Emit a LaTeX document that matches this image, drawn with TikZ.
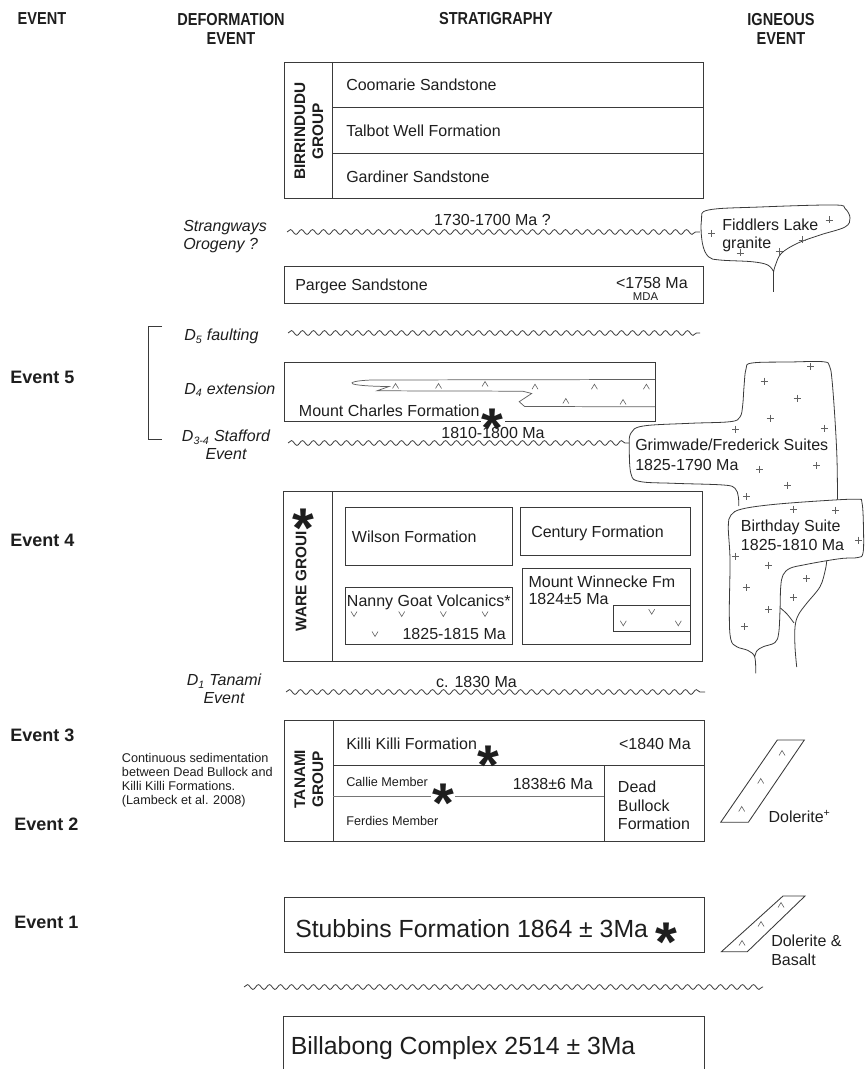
\documentclass[tikz,border=0pt]{standalone}
\usepackage{fontspec}
\setmainfont{Liberation Sans}
\newfontfamily\headfont[FakeStretch=0.84]{Liberation Sans Bold}
\usetikzlibrary{decorations.pathmorphing}
\definecolor{linec}{HTML}{3A3A3A}
\definecolor{inkc}{HTML}{1E1E1E}

\begin{document}
\begin{tikzpicture}[x=0.75pt, y=-0.75pt,
  every node/.style={text=inkc},
  box/.style={draw=linec, line width=0.65pt},
  wavy/.style={draw=linec, line width=0.6pt, decorate,
               decoration={snake, segment length=8.25pt, amplitude=1.8pt}},
  txt/.style={inner sep=0pt, anchor=base west, font=\fontsize{12}{14}\selectfont},
  txtr/.style={txt, anchor=base east},
  small/.style={inner sep=0pt, anchor=base west, font=\fontsize{9.5}{11}\selectfont},
  defo/.style={inner sep=0pt, font=\fontsize{12}{13.5}\selectfont\itshape},
  evt/.style={inner sep=0pt, anchor=base west, font=\fontsize{13.5}{16}\selectfont\bfseries},
  head/.style={inner sep=0pt, align=center, font=\fontsize{13}{14.25}\selectfont\headfont},
  grp/.style={inner sep=0pt, rotate=90, align=center,
              font=\fontsize{11.5}{13.5}\selectfont\bfseries},
  big/.style={inner sep=0pt, anchor=base west, font=\fontsize{18.6}{22}\selectfont},
  star/.style={inner sep=0pt, anchor=base, text height=31pt, text depth=-17pt,
               font=\fontsize{42}{42}\selectfont\bfseries},
  gran/.style={draw=linec!80, line width=0.45pt},
  blob/.style={draw=linec, line width=0.6pt}
]
\useasboundingbox (0,0) rectangle (865,1069);

% ---- column headers ----
\node[head] (hevent)   at (42,19)    {EVENT};
\node[head] (hdeform)  at (231,28.5) {DEFORMATION\\EVENT};
\node[head] (hstrat)   at (496,19)   {STRATIGRAPHY};
\node[head] (higneous) at (781,28.5) {IGNEOUS\\EVENT};

% ---- event column ----
\node[evt] (ev5) at (10,383.5) {Event 5};
\node[evt] (ev4) at (10,546)   {Event 4};
\node[evt] (ev3) at (10,741.5) {Event 3};
\node[evt] (ev2) at (14,830)   {Event 2};
\node[evt] (ev1) at (14,928.5) {Event 1};
\node[inner sep=0pt, anchor=north west, align=left,
      font=\fontsize{9.5}{10.3}\selectfont] (note) at (121.7,753.5)
  {Continuous sedimentation\\between Dead Bullock and\\Killi Killi Formations.\\(Lambeck et al. 2008)};

% ---- deformation column ----
\draw[linec, line width=0.6pt] (162,326) -- (148,326) -- (148,439) -- (162,439);
\node[defo, anchor=north west, align=left] (strang) at (183,220) {Strangways\\Orogeny ?};
\node[defo, anchor=base west] (dfive) at (184,341) {D\textsubscript{5} faulting};
\node[defo, anchor=base west] (dfour) at (184,394) {D\textsubscript{4} extension};
\node[defo, anchor=north, align=center] (dthree) at (226,430) {D\textsubscript{3-4} Stafford\\Event};
\node[defo, anchor=north, align=center] (done) at (224,674) {D\textsubscript{1} Tanami\\Event};

% ---- unconformities ----
\draw[wavy] (287,232) -- (700,232);
\draw[wavy] (288,333) -- (700,333);
\draw[wavy] (288,443) -- (629,443);
\draw[wavy] (286,692) -- (705,692);
\draw[wavy] (244,987) -- (763,987);
\node[txt, anchor=base] (age1730) at (492.5,226) {1730-1700 Ma ?};
\node[txt, anchor=base] (age1810) at (493,438.5) {1810-1800 Ma};
\node[txt, anchor=base] (age1830) at (476.5,687) {c. 1830 Ma};

% ---- Birrindudu Group ----
\draw[box] (284,62) rectangle (703,198.5);
\draw[box] (332.7,62) -- (332.7,198.5)
           (332.7,107.3) -- (703,107.3) (332.7,153.3) -- (703,153.3);
\node[grp] (birgrp) at (309,131) {BIRRINDUDU\\GROUP};
\node[txt] (coomarie) at (346,90.8)  {Coomarie Sandstone};
\node[txt] (talbot)   at (346,136.8) {Talbot Well Formation};
\node[txt] (gardiner) at (346,182.5) {Gardiner Sandstone};

% ---- Pargee Sandstone ----
\draw[box] (284,266.7) rectangle (703,303.3);
\node[txt]  (pargee) at (295,291) {Pargee Sandstone};
\node[txtr] (age1758) at (688,289) {<1758 Ma};
\node[inner sep=0pt, anchor=base, font=\fontsize{8.5}{10}\selectfont] (mda) at (645.5,301) {MDA};

% ---- Mount Charles Formation ----
\draw[box] (284,362) rectangle (655,421);
\draw[gran, line width=0.55pt] (655,379.5) -- (372,380)
  .. controls (356,380.5) and (349,382.5) .. (353,384)
  .. controls (360,386) and (380,386.5) .. (389,386.5)
  -- (377,390.8) -- (522.8,391.2) -- (531.7,393.5) -- (519.2,401.7)
  -- (524.6,406.5) -- (655,406.8);
\foreach \px/\py in {395.5/386, 438.5/386, 485/384, 535/386.7, 565.8/401,
                     594.4/386.7, 623/402, 646.4/386.7}
  \draw[gran] (\px,\py) +(-3,2.5) -- +(0,-2.5) -- +(3,2.5);
\node[txt] (mtcharles) at (298.7,416) {Mount Charles Formation};
\fill[white] (481,418) rectangle (505,424);
\node[star] (starmc) at (492,447.3) {*};

% ---- Ware Group ----
\draw[box] (283.5,491) rectangle (702.5,661);
\draw[box] (332.7,491) -- (332.7,661);
\node[grp] (waregrp) at (301,581) {WARE GROUI};
\node[star] (starwg) at (303.3,547.3) {*};
\draw[box] (345.7,507.7) rectangle (512.3,565);
\node[txt] (wilson) at (351.7,542.5) {Wilson Formation};
\draw[box] (520.7,507.7) rectangle (690,555);
\node[txt] (century) at (531,537.5) {Century Formation};
\draw[box] (345.7,587.3) rectangle (512.3,644.3);
\node[txt] (nanny) at (346.7,606) {Nanny Goat Volcanics*};
\node[txt] (age1825a) at (402.3,639) {1825-1815 Ma};
\foreach \px/\py in {354/614, 401.7/614, 443.3/614, 485/614, 375/634}
  \draw[gran] (\px,\py) +(-3,-2.5) -- +(0,2.5) -- +(3,-2.5);
\draw[box] (522.7,568.3) rectangle (690,644.3);
\node[inner sep=0pt, anchor=north west, align=left,
      font=\fontsize{12}{12.5}\selectfont] (winnecke) at (528.3,576)
  {Mount Winnecke Fm\\1824±5 Ma};
\draw[box] (613.3,605) rectangle (690,631.7);
\foreach \px/\py in {623.3/623.3, 651.7/611.7, 678.3/623.3}
  \draw[gran] (\px,\py) +(-3,-2.5) -- +(0,2.5) -- +(3,-2.5);

% ---- Tanami Group ----
\draw[box] (284,720) rectangle (704,841.5);
\draw[box] (333.3,720) -- (333.3,841.5)
           (333.3,765.7) -- (704,765.7)
           (604.3,765.7) -- (604.3,841.5);
\draw[draw=linec!70, line width=0.5pt] (333.3,796.7) -- (431,796.7)
                                       (455,796.7) -- (604.3,796.7);
\node[grp] (tangrp) at (309,779) {TANAMI\\GROUP};
\node[txt]  (killi) at (346,749) {Killi Killi Formation};
\node[txtr] (age1840) at (691,749) {<1840 Ma};
\node[star] (starkk) at (488.3,784) {*};
\node[small] (callie) at (346,786.3) {Callie Member};
\node[txtr] (age1838) at (593,789) {1838±6 Ma};
\node[star] (starcm) at (443.7,822.3) {*};
\node[small] (ferdies) at (346,825.3) {Ferdies Member};
\node[inner sep=0pt, anchor=north west, align=left,
      font=\fontsize{12}{13.75}\selectfont] (deadbull) at (617.7,781)
  {Dead\\Bullock\\Formation};

% ---- Stubbins Formation and basement ----
\draw[box] (284,897) rectangle (704,952);
\node[big] (stubbins) at (295,937) {Stubbins Formation 1864 ± 3Ma};
\node[star] (starsf) at (666,961.3) {*};
\draw[box] (283,1075) -- (283,1016) -- (704,1016) -- (704,1075);
\node[big] (billabong) at (290.6,1054) {Billabong Complex 2514 ± 3Ma};

% ---- igneous column: granites ----
% Fiddlers Lake granite
\draw[blob] (773.6,291.7) -- (773.6,271.7);
\draw[blob] plot[smooth, tension=0.6] coordinates {
  (773.6,271.7) (767.7,265) (751.7,261.7) (719.8,260) (708.4,256.7)
  (702.4,243.3) (701.5,220) (708.4,210) (760,207) (834,205) (845,208.5)
  (850,218) (845,227) (820,235) (797.4,243.3) (781.4,253.3) (775.5,265)
  (773.6,271.7)};
\node[inner sep=0pt, anchor=north west, align=left,
      font=\fontsize{12}{13.5}\selectfont] (fiddlers) at (722,219)
  {Fiddlers Lake\\granite};
\foreach \px/\py in {711.6/233.3, 829/220, 802/240, 740/253, 779/251.7}
  \draw[gran] (\px,\py) +(-3.5,0) -- +(3.5,0) +(0,-3.5) -- +(0,3.5);

% Grimwade / Frederick Suites
\draw[blob] plot[smooth, tension=0.6] coordinates {
  (738.7,506) (738.3,496.7) (735,488.3) (723.3,485) (673.3,483.3)
  (640,481.5) (631,474) (629.3,446.7) (631,433) (643.3,426) (690,423.3)
  (730,421.7) (740,417) (742.7,405) (744,386.7) (746,369) (752,363)
  (790,362) (823,361.7) (829.5,366) (832,380) (835,420) (837,460)
  (837.5,499.5)};
\node[inner sep=0pt, anchor=north west, align=left,
      font=\fontsize{12}{15}\selectfont] (grimwade) at (635,439)
  {Grimwade/Frederick Suites\\1825-1790 Ma};
\foreach \px/\py in {810.7/366.7, 764/381, 797/398, 770/418, 735.7/429,
                     824.3/428, 759.3/469, 816.7/465.7, 787.3/485, 746.7/496.7}
  \draw[gran] (\px,\py) +(-3.5,0) -- +(3.5,0) +(0,-3.5) -- +(0,3.5);

% Birthday Suite
\draw[blob] plot[smooth, tension=0.6] coordinates {
  (755.7,673.3) (754.7,657) (748,650.5) (736.7,646.7) (730.7,639)
  (729.3,613) (730,560) (728.3,527) (731,515) (742,509) (773,504.5)
  (823,500.7) (856.7,499.3) (862,503) (863.5,530) (863,553) (858,557.5)
  (843.3,558.3) (826.7,560.7) (803.3,565) (790,568.3) (783,575)
  (780.7,587) (780,610) (778.7,633) (775,642.5) (763.3,646.7)
  (757,650.7) (754.7,657)};
\draw[blob] plot[smooth, tension=0.6] coordinates {
  (826.7,560.7) (825.3,570) (820,586.7) (806.7,603.3) (798.3,615)
  (795,627) (795,647) (796.7,667)};
\draw[blob] plot[smooth, tension=0.6] coordinates {
  (780.3,608) (787,614) (794,623)};
\node[inner sep=0pt, anchor=north west, align=left,
      font=\fontsize{12}{14.25}\selectfont] (birthday) at (740.7,520)
  {Birthday Suite\\1825-1810 Ma};
\foreach \px/\py in {793.3/509, 835.7/510, 858.3/540, 735/556, 768.3/565,
                     806.7/578.3, 746/587.7, 793.3/597.7, 768.3/609.3, 744.3/626.7}
  \draw[gran] (\px,\py) +(-3.5,0) -- +(3.5,0) +(0,-3.5) -- +(0,3.5);

% ---- igneous column: dykes ----
\draw[box] (720.7,822.3) -- (777.3,740) -- (804.3,740) -- (748.3,822.3) -- cycle;
\foreach \px/\py in {782/753, 760.7/781, 741.7/809}
  \draw[gran] (\px,\py) +(-3,2.5) -- +(0,-2.5) -- +(3,2.5);
\node[txt] (dolerite) at (768.3,822.5) {Dolerite\textsuperscript{+}};
\draw[box] (721.4,951.7) -- (783,896) -- (805,896) -- (747.3,951.7) -- cycle;
\foreach \px/\py in {781/905, 761/924, 742/943}
  \draw[gran] (\px,\py) +(-3,2.5) -- +(0,-2.5) -- +(3,2.5);
\node[inner sep=0pt, anchor=north west, align=left,
      font=\fontsize{12}{14.25}\selectfont] (basalt) at (771,935)
  {Dolerite \&\\Basalt};
\end{tikzpicture}
\end{document}
